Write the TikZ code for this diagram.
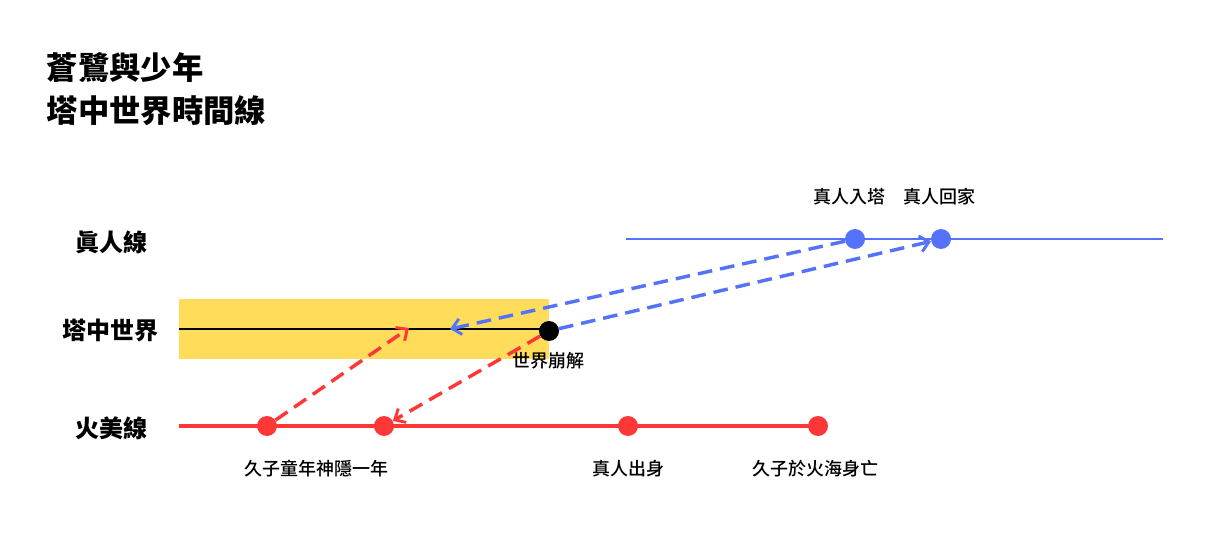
\documentclass[tikz,border=0pt]{standalone}
\usepackage{fontspec}
\setmainfont{Noto Sans CJK TC}
\newfontfamily\cjkmed{Noto Sans CJK TC Medium}
\usetikzlibrary{arrows.meta}
\definecolor{mblue}{RGB}{85,115,250}
\definecolor{myellow}{RGB}{255,221,90}
\definecolor{mred}{RGB}{255,55,55}
\begin{document}
\begin{tikzpicture}[x=0.75pt,y=-0.75pt,
	dot/.style={circle,inner sep=0pt,minimum size=15pt},
	evlab/.style={font=\cjkmed\fontsize{13.5}{15}\selectfont},
	rowlab/.style={font=\fontsize{18}{20}\selectfont\bfseries},
	jump/.style={line width=2.6pt,dash pattern=on 11pt off 6pt,
		-{Straight Barb[length=6.5pt,width=12pt,line width=2.2pt]}}]
	\useasboundingbox (0,0) rectangle (1211,556);
	% titel
	\node[anchor=west,font=\fontsize{23.5}{26}\selectfont\bfseries] (ttl1) at (42,68) {蒼鷺與少年};
	\node[anchor=west,font=\fontsize{23.5}{26}\selectfont\bfseries] (ttl2) at (42,111) {塔中世界時間線};
	% rijen
	\node[rowlab] (rz) at (111,242) {眞人線};
	\node[rowlab] (rt) at (110,330) {塔中世界};
	\node[rowlab] (rh) at (111,428) {火美線};
	% tijdlijnen
	\fill[myellow] (179,299) rectangle (549,359);
	\draw[line width=1.5pt] (179,329) -- (549,329);
	\draw[mblue,line width=1.6pt] (626,239) -- (1163,239);
	\draw[mred,line width=2.8pt] (179,426) -- (818,426);
	% punten
	\node[dot,fill=mblue] (zi) at (855,239) {};
	\node[dot,fill=mblue] (zh) at (941,239) {};
	\node[dot,fill=black] (bk) at (549,331) {};
	\node[dot,fill=mred] (h1) at (267,426) {};
	\node[dot,fill=mred] (h2) at (384,426) {};
	\node[dot,fill=mred] (h3) at (628,426) {};
	\node[dot,fill=mred] (h4) at (818,426) {};
	\coordinate (tb) at (450,329);
	\coordinate (tr) at (409,328);
	% labels
	\node[evlab] (lzi) at (849,197) {真人入塔};
	\node[evlab] (lzh) at (939,197) {真人回家};
	\node[evlab] (lbk) at (548,361) {世界崩解};
	\node[evlab] (lh1) at (316,469) {久子童年神隱一年};
	\node[evlab] (lh3) at (628,469) {真人出身};
	\node[evlab] (lh4) at (815,469) {久子於火海身亡};
	% sprongen
	\draw[jump,mblue] (zi) -- (tb);
	\draw[jump,mblue] (bk) -- (zh);
	\draw[jump,mred] (h1) -- (tr);
	\draw[jump,mred] (bk) -- (h2);
\end{tikzpicture}
\end{document}
